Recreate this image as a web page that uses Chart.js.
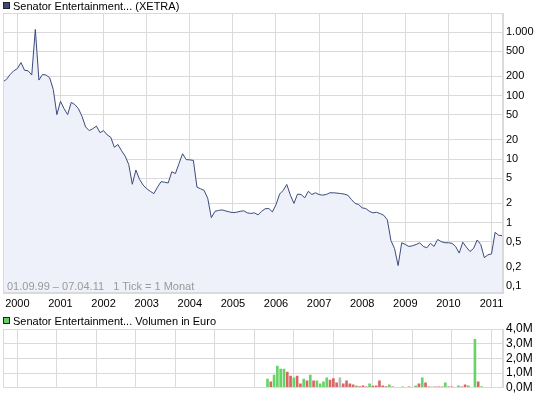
<!DOCTYPE html>
<html>
<head>
<meta charset="utf-8">
<script src="https://cdn.jsdelivr.net/npm/chart.js@4.4.1/dist/chart.umd.min.js"></script>
<style>
body { margin: 0; background: #fff; font-family: "Liberation Sans", Arial, sans-serif; font-size: 11px; }
#wrap { position: relative; width: 545px; height: 398px; overflow: hidden; }
canvas { position: absolute; left: 0; }
.leg { position: absolute; left: 3px; white-space: pre; color: #000; line-height: 13px; }
.leg i { display: inline-block; width: 5px; height: 5px; border: 1px solid #222; margin-right: 3px; vertical-align: 1px; }
#info { position: absolute; left: 7px; top: 280px; color: #9a9a9a; white-space: pre; line-height: 13px; }
</style>
</head>
<body>
<div id="wrap">
  <canvas id="kurs" width="545" height="312" style="top:0"></canvas>
  <canvas id="volumen" width="545" height="84" style="top:314px"></canvas>
  <div class="leg" style="top:0"><i style="background:#3a4a7c"></i>Senator Entertainment... (XETRA)</div>
  <div class="leg" style="top:315px"><i style="background:#66cc66"></i>Senator Entertainment... Volumen in Euro</div>
  <div id="info">01.09.99 – 07.04.11   1 Tick = 1 Monat</div>
</div>
<script>
// Monatswerte ab 09/1999 bis 04/2011
const startJahr = 1999 + 8 / 12;
const endeJahr = 2011 + 3 / 12 + 6 / 365;

const kurs = [
  165, 180, 215, 245, 265, 330, 250, 245, 210, 1100,
  175, 214, 210, 190, 124, 50, 81, 62, 50, 78,
  72, 62, 47, 32, 28, 30, 33, 26, 28, 24,
  22, 15.3, 16.9, 13.5, 11.1, 8.2, 4.0, 6.7, 4.8, 3.9,
  3.4, 3.1, 2.85, 3.6, 4.4, 4.3, 4.2, 6.3, 5.9, 8.5,
  12.1, 9.8, 9.7, 9.5, 3.6, 3.4, 3.2, 2.4, 1.19, 1.5,
  1.55, 1.58, 1.52, 1.47, 1.43, 1.45, 1.5, 1.53, 1.42, 1.39,
  1.42, 1.32, 1.5, 1.65, 1.66, 1.47, 1.9, 2.8, 3.2, 3.97,
  2.7, 2.0, 2.8, 2.76, 2.45, 3.1, 2.76, 2.94, 2.75, 2.7,
  2.76, 2.94, 2.94, 2.9, 2.86, 2.8, 2.69, 2.3, 2.0, 1.92,
  1.70, 1.66, 1.5, 1.42, 1.45, 1.38, 1.3, 1.1, 0.52, 0.39,
  0.21, 0.48, 0.45, 0.42, 0.43, 0.45, 0.48, 0.42, 0.40, 0.47,
  0.42, 0.54, 0.50, 0.48, 0.48, 0.47, 0.42, 0.33, 0.49, 0.41,
  0.35, 0.39, 0.53, 0.45, 0.28, 0.31, 0.32, 0.70, 0.63, 0.62
];

// Volumen (Mio. Euro) ab Monat 74 (11/2005)
const volumenStart = 74;
const volumen = [
  0.60, 0.40, 0.87, 1.47, 1.27, 1.27, 1.07, 0.80, 0.67, 0.80,
  0.27, 0.60, 0.47, 0.87, 0.47, 0.47, 0.27, 0.40, 0.67, 0.53,
  0.62, 0.33, 0.67, 0.27, 0.47, 0.27, 0.20, 0.13, 0.09, 0.13,
  0.07, 0.27, 0.11, 0.13, 0.47, 0.13, 0.09, 0.20, 0.07, 0,
  0, 0.07, 0, 0.07, 0, 0.13, 0.27, 0.67, 0.33, 0.07,
  0.07, 0.07, 0.07, 0.07, 0.33, 0.07, 0.07, 0, 0.13, 0.07,
  0.20, 0.13, 0, 3.29, 0.40, 0.09
];
// G = steigend, R = fallend, N = unveraendert
const volumenTrend = [
  'G','R','G','G','G','G','R','R','G','R',
  'R','G','R','G','R','G','G','G','G','R',
  'R','R','N','R','R','R','R','G','R','R',
  'R','G','R','R','R','R','R','G','R','R',
  'R','G','R','R','R','G','R','G','R','R',
  'N','R','R','R','G','R','R','R','G','R',
  'R','G','R','G','R','G'
];

const jahre = [2000, 2001, 2002, 2003, 2004, 2005, 2006, 2007, 2008, 2009, 2010, 2011];
const kursTicks = [0.1, 0.2, 0.5, 1, 2, 5, 10, 20, 50, 100, 200, 500, 1000];
const kursLabels = ['0,1', '0,2', '0,5', '1', '2', '5', '10', '20', '50', '100', '200', '500', '1.000'];
const volTicks = [0, 1, 2, 3, 4];
const volLabels = ['0,0M', '1,0M', '2,0M', '3,0M', '4,0M'];

const trendFarben = { G: '#66d466', R: '#d96666', N: '#b8b8b8' };
const gitter = '#dadada';
const schrift = { family: '"Liberation Sans", Arial, sans-serif', size: 11 };

const monat = i => startJahr + i / 12;

const rahmen = {
  id: 'rahmen',
  afterDraw(chart) {
    const a = chart.chartArea;
    const ctx = chart.ctx;
    ctx.save();
    ctx.strokeStyle = gitter;
    ctx.lineWidth = 1;
    ctx.strokeRect(Math.round(a.left) + 0.5, Math.round(a.top) + 0.5,
      Math.round(a.right - a.left) - 1, Math.round(a.bottom - a.top) - 1);
    ctx.restore();
  }
};

const xAchse = (hoehe, labels) => ({
  type: 'linear',
  min: startJahr,
  max: endeJahr,
  afterBuildTicks: s => { s.ticks = jahre.map(v => ({ value: v })); },
  afterFit: s => { s.height = hoehe; },
  grid: { color: gitter, drawTicks: false },
  border: { color: gitter },
  ticks: {
    display: labels, color: '#000', font: schrift, padding: 4,
    maxRotation: 0, autoSkip: false, callback: v => String(v)
  }
});

new Chart(document.getElementById('kurs'), {
  type: 'line',
  data: {
    datasets: [{
      data: kurs.map((v, i) => ({ x: monat(i), y: v })),
      borderColor: '#3a4a7c',
      borderWidth: 1,
      backgroundColor: '#eef1f9',
      fill: 'start',
      pointRadius: 0,
      tension: 0
    }]
  },
  options: {
    responsive: false,
    animation: false,
    layout: { padding: { left: 3, top: 13, right: 0, bottom: 0 } },
    plugins: { legend: { display: false }, tooltip: { enabled: false } },
    scales: {
      x: xAchse(19, true),
      y: {
        type: 'logarithmic',
        position: 'right',
        min: 0.0776,
        max: 1992,
        afterBuildTicks: s => { s.ticks = kursTicks.map(v => ({ value: v })); },
        afterFit: s => { s.width = 42; },
        grid: { color: gitter, drawTicks: false },
        border: { color: gitter },
        ticks: {
          color: '#000', font: schrift, padding: 3, autoSkip: false,
          callback: v => kursLabels[kursTicks.indexOf(v)]
        }
      }
    }
  },
  plugins: [rahmen]
});

new Chart(document.getElementById('volumen'), {
  type: 'bar',
  data: {
    datasets: [{
      data: volumen.map((v, k) => ({ x: monat(volumenStart + k), y: v })),
      backgroundColor: volumenTrend.map(t => trendFarben[t]),
      barThickness: 2,
      borderWidth: 0
    }]
  },
  options: {
    responsive: false,
    animation: false,
    layout: { padding: { left: 3, top: 15, right: 0, bottom: 0 } },
    plugins: { legend: { display: false }, tooltip: { enabled: false } },
    scales: {
      x: xAchse(9, false),
      y: {
        position: 'right',
        min: 0,
        max: 4,
        afterBuildTicks: s => { s.ticks = volTicks.map(v => ({ value: v })); },
        afterFit: s => { s.width = 42; },
        grid: { color: gitter, drawTicks: false },
        border: { color: gitter },
        ticks: {
          color: '#000', font: { family: schrift.family, size: 12 }, padding: 3,
          autoSkip: false,
          callback: v => volLabels[volTicks.indexOf(v)]
        }
      }
    }
  },
  plugins: [rahmen]
});
</script>
</body>
</html>
